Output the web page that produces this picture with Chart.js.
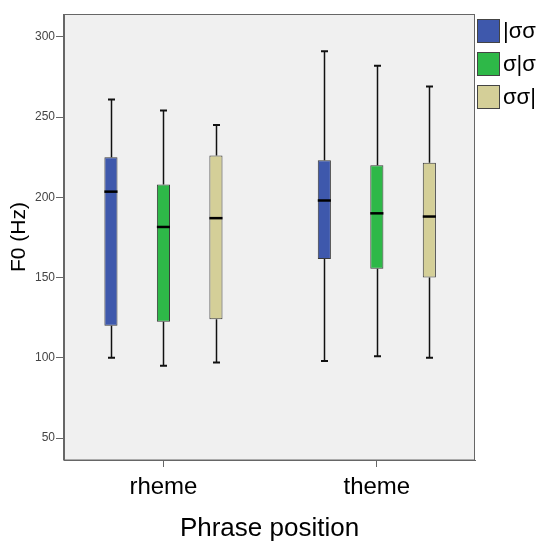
<!DOCTYPE html>
<html>
<head>
<meta charset="utf-8">
<script src="https://cdn.jsdelivr.net/npm/chart.js@4.4.1/dist/chart.umd.min.js"></script>
<style>
  body { margin: 0; background: #fff; }
  canvas { display: block; }
</style>
</head>
<body>
<canvas id="myChart" width="542" height="544"></canvas>
<script>
// categories on the x axis and the three series (legend)
const categories = ['rheme', 'theme'];
const seriesNames = ['|σσ', 'σ|σ', 'σσ|'];
const seriesColors = ['rgb(62, 88, 172)', 'rgb(46, 184, 72)', 'rgb(212, 207, 152)'];

// box plot values per series: [rheme, theme]
const whiskerLow = [[100, 98], [95, 101], [97, 100]];
const q1 = [[120, 161.5], [122.5, 155.5], [124, 150]];
const median = [[203.5, 198], [181.5, 190], [187, 188]];
const q3 = [[225, 223], [208, 220], [226, 221.5]];
const whiskerHigh = [[261, 291], [254, 282], [245, 269]];

const yTicks = [50, 100, 150, 200, 250, 300];

const datasets = seriesNames.map((name, s) => ({
    label: name,
    data: categories.map((c, i) => ({x: i, y: [q1[s][i], q3[s][i]]})),
    backgroundColor: seriesColors[s],
    borderColor: '#3a3a3a',
    borderWidth: 1,
    borderSkipped: false,
    categoryPercentage: 0.738,
    barPercentage: 0.25
}));

const boxPlugin = {
    id: 'box_extras',
    beforeDraw: (chart) => {
        const ctx = chart.ctx;
        const a = chart.chartArea;
        ctx.save();
        ctx.fillStyle = '#f0f0f0';
        ctx.fillRect(a.left, a.top, a.right - a.left, a.bottom - a.top);
        ctx.restore();
    },
    afterDatasetsDraw: (chart) => {
        const ctx = chart.ctx;
        const yScale = chart.scales.y;
        ctx.save();
        ctx.strokeStyle = '#111';
        for (let s = 0; s < seriesNames.length; s++) {
            const meta = chart.getDatasetMeta(s);
            meta.data.forEach((bar, i) => {
                const x = Math.round(bar.x) + 0.5;
                const yLo = yScale.getPixelForValue(whiskerLow[s][i]);
                const yQ1 = yScale.getPixelForValue(q1[s][i]);
                const yQ3 = yScale.getPixelForValue(q3[s][i]);
                const yHi = yScale.getPixelForValue(whiskerHigh[s][i]);
                const yMed = yScale.getPixelForValue(median[s][i]);
                ctx.lineWidth = 1.5;
                ctx.beginPath();
                ctx.moveTo(x, yQ3); ctx.lineTo(x, yHi);
                ctx.moveTo(x, yQ1); ctx.lineTo(x, yLo);
                ctx.stroke();
                ctx.lineWidth = 2;
                ctx.beginPath();
                ctx.moveTo(x - 3.5, yHi); ctx.lineTo(x + 3.5, yHi);
                ctx.moveTo(x - 3.5, yLo); ctx.lineTo(x + 3.5, yLo);
                ctx.stroke();
                ctx.lineWidth = 2.5;
                ctx.strokeStyle = '#000';
                ctx.beginPath();
                ctx.moveTo(bar.x - bar.width / 2, yMed); ctx.lineTo(bar.x + bar.width / 2, yMed);
                ctx.stroke();
                ctx.strokeStyle = '#111';
            });
        }
        ctx.restore();
    },
    afterDraw: (chart) => {
        const ctx = chart.ctx;
        const a = chart.chartArea;
        ctx.save();
        ctx.strokeStyle = '#666';
        ctx.lineWidth = 1;
        ctx.strokeRect(Math.round(a.left) - 0.5, Math.round(a.top) + 0.5,
            Math.round(a.right - a.left), Math.round(a.bottom - a.top) - 0.5);
        // legend
        ctx.font = '22px "Liberation Sans", Arial, sans-serif';
        ctx.textBaseline = 'middle';
        chart.data.datasets.forEach((ds, i) => {
            const top = 19.5 + 33 * i;
            ctx.fillStyle = ds.backgroundColor;
            ctx.fillRect(477.5, top, 22, 23);
            ctx.strokeStyle = '#444';
            ctx.strokeRect(477.5, top, 22, 23);
            ctx.fillStyle = '#000';
            ctx.fillText(ds.label, 503, top + 12.5);
        });
        ctx.restore();
    }
};

const ctx = document.getElementById('myChart').getContext('2d');
const myChart = new Chart(ctx, {
    type: 'bar',
    plugins: [boxPlugin],
    data: {datasets: datasets},
    options: {
        responsive: false,
        animation: false,
        layout: {padding: {top: 14, right: 67, left: 0, bottom: 0}},
        plugins: {legend: {display: false}, tooltip: {enabled: false}},
        scales: {
            x: {
                type: 'linear',
                min: -0.466,
                max: 1.46,
                offset: false,
                afterBuildTicks: (scale) => { scale.ticks = categories.map((c, i) => ({value: i})); },
                afterFit: (scale) => { scale.height = 84; },
                grid: {drawOnChartArea: false, offset: false, tickLength: 7, color: '#666'},
                border: {color: '#666'},
                ticks: {
                    callback: (v) => categories[v],
                    padding: 6,
                    color: '#000',
                    font: {family: '"Liberation Sans", Arial, sans-serif', size: 24}
                },
                title: {
                    display: true,
                    text: 'Phrase position',
                    color: '#000',
                    padding: {top: 0, bottom: 0},
                    font: {family: '"Liberation Sans", Arial, sans-serif', size: 26}
                }
            },
            y: {
                min: 36.3,
                max: 314.2,
                afterBuildTicks: (scale) => { scale.ticks = yTicks.map(v => ({value: v})); },
                afterFit: (scale) => { scale.width = 64; },
                grid: {drawOnChartArea: false, tickLength: 8, color: '#666'},
                border: {color: '#666'},
                ticks: {
                    padding: 1,
                    color: '#444',
                    font: {family: '"Liberation Sans", Arial, sans-serif', size: 12}
                },
                title: {
                    display: true,
                    text: 'F0 (Hz)',
                    color: '#000',
                    padding: {top: 7, bottom: 0},
                    font: {family: '"Liberation Sans", Arial, sans-serif', size: 21}
                }
            }
        }
    }
});
</script>
</body>
</html>
